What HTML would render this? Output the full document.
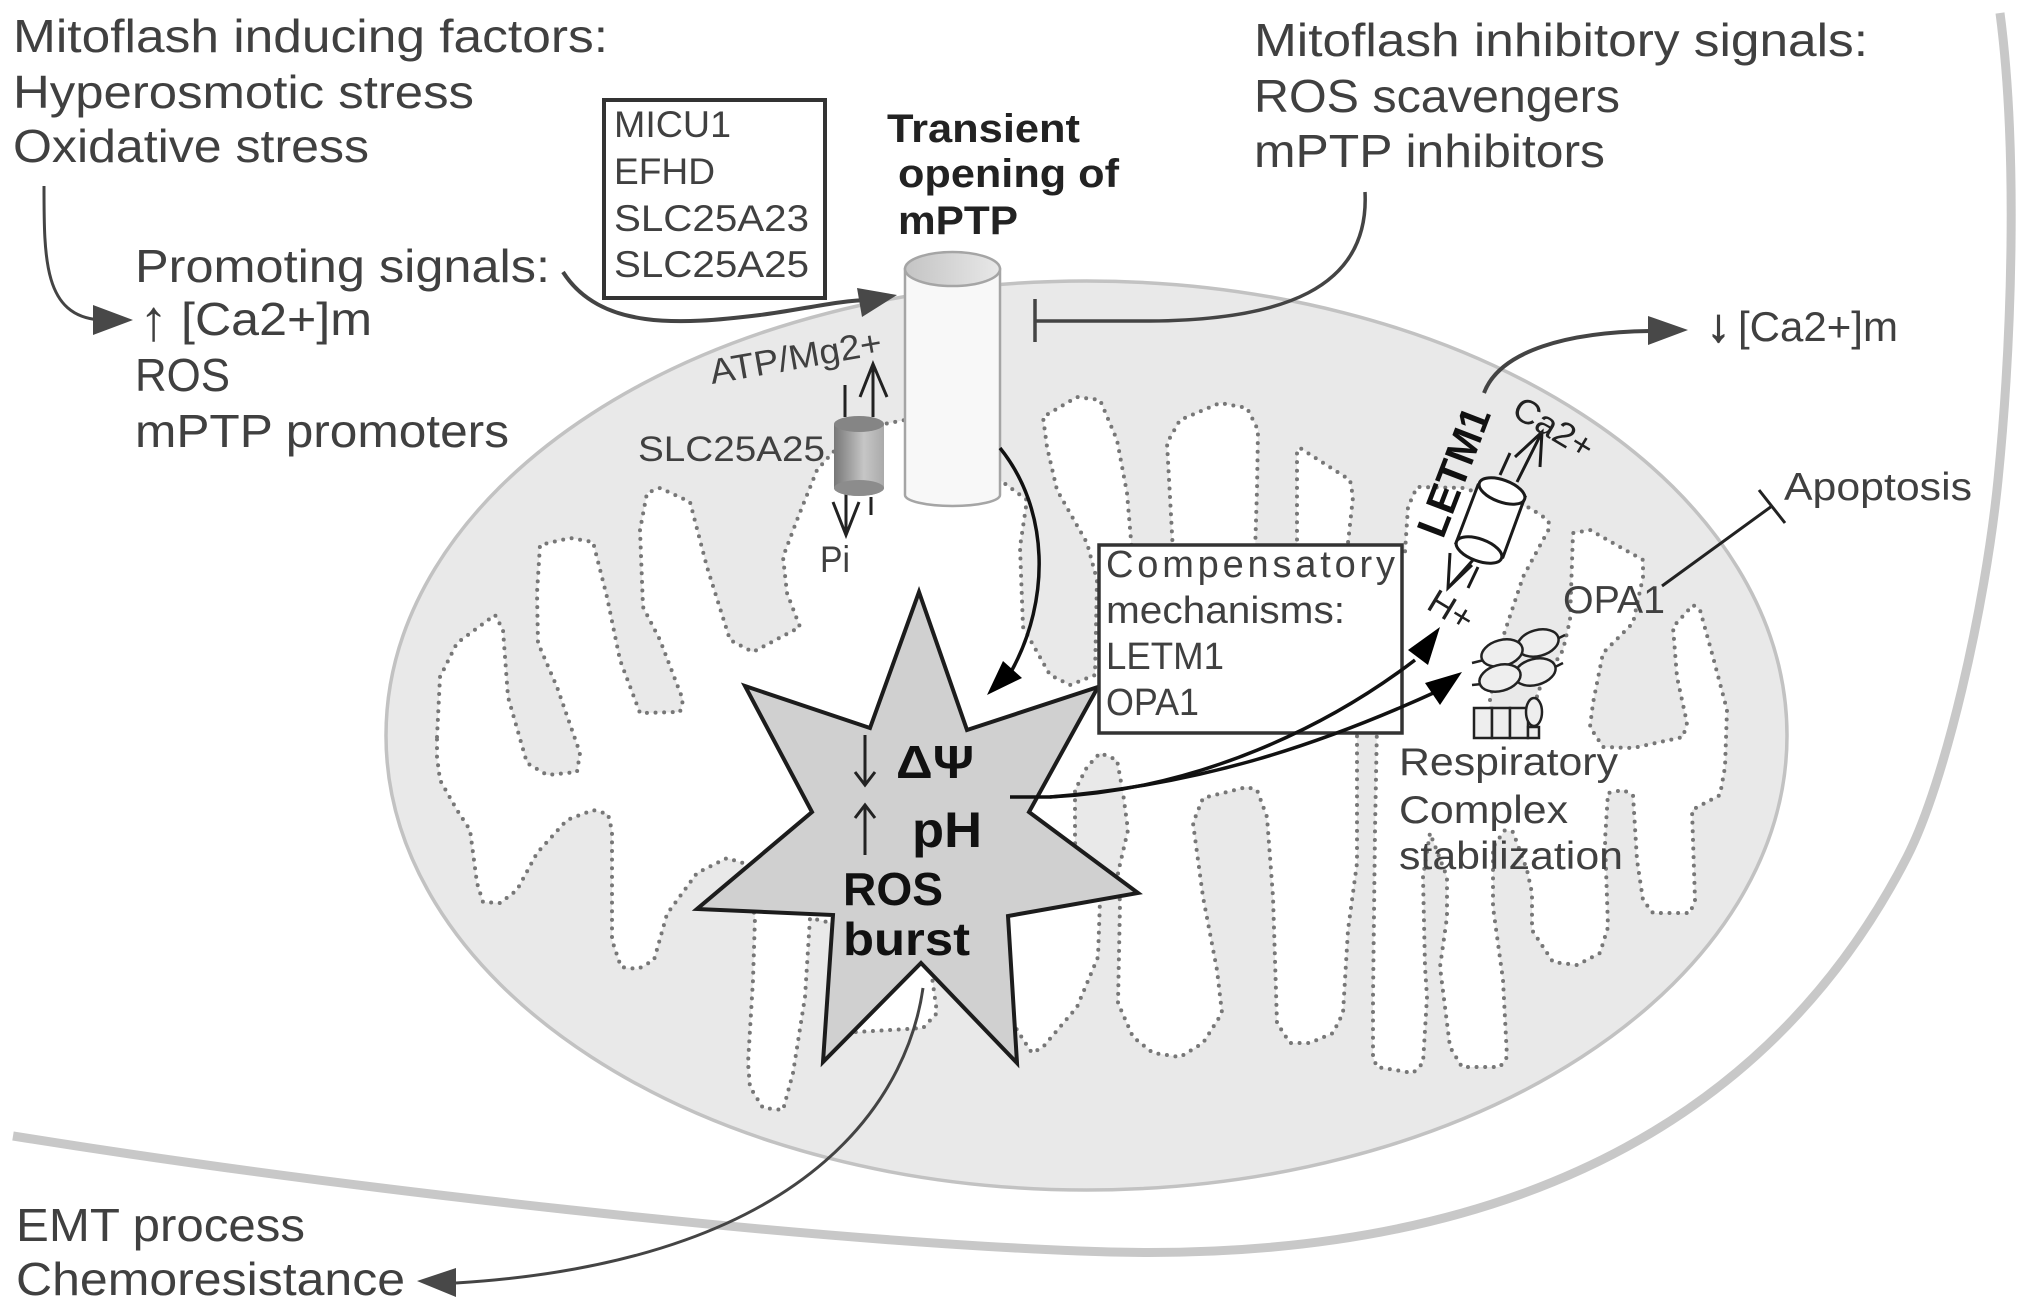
<!DOCTYPE html>
<html><head><meta charset="utf-8"><title>Mitoflash diagram</title>
<style>
html,body{margin:0;padding:0;background:#fff}
svg{display:block}
text{font-family:"Liberation Sans",sans-serif;fill:#404040}
.b{font-weight:bold;fill:#111}
</style></head><body>
<svg width="2031" height="1311" viewBox="0 0 2031 1311" xmlns="http://www.w3.org/2000/svg">
<defs>
<linearGradient id="g1" x1="0" x2="1" y1="0" y2="0"><stop offset="0" stop-color="#777"/><stop offset=".6" stop-color="#c6c6c6"/><stop offset="1" stop-color="#aaa"/></linearGradient>
<linearGradient id="g2" x1="0" x2="1" y1="0" y2="0"><stop offset="0" stop-color="#c4c4c4"/><stop offset="1" stop-color="#e8e8e8"/></linearGradient>
</defs>
<rect width="2031" height="1311" fill="#fff"/>

<!-- mitochondrion -->
<ellipse cx="1086.5" cy="735.5" rx="700.5" ry="454.5" fill="#e9e9e9" stroke="#c2c2c2" stroke-width="3.5"/>
<polygon fill="#fff" stroke="#777" stroke-width="4" stroke-linecap="round" stroke-linejoin="round" stroke-dasharray="0 8.6" points="437,737 440,677 457,643 495,615 503,630 508,697 527,763 547,775 577,772 580,753 557,687 538,643 537,593 540,545 570,538 593,542 607,597 620,660 640,713 680,712 683,700 660,640 643,607 640,530 647,493 660,488 690,502 707,567 730,640 753,652 800,627 787,593 783,557 797,520 817,470 833,452 884,424 905,420 1000,480 1027,500 1020,547 1023,627 1050,675 1070,685 1095,675 1097,580 1087,543 1057,490 1047,447 1043,417 1077,397 1100,400 1117,440 1127,493 1132,552 1173,552 1170,497 1167,443 1180,420 1220,403 1247,408 1258,430 1257,490 1255,552 1297,552 1297,450 1300,448 1350,480 1353,497 1347,552 1405,552 1408,507 1417,487 1463,488 1530,508 1548,520 1550,527 1523,577 1503,637 1490,700 1490,735 1537,735 1537,693 1563,650 1570,620 1573,533 1590,530 1643,560 1643,577 1633,623 1603,653 1593,703 1590,727 1603,747 1633,748 1683,737 1687,723 1677,677 1673,627 1693,605 1700,610 1713,657 1727,710 1725,767 1720,795 1692,810 1695,900 1690,913 1653,913 1643,900 1637,860 1633,795 1623,790 1608,793 1605,840 1608,927 1600,953 1577,965 1553,962 1532,930 1532,893 1527,870 1513,832 1505,830 1493,847 1493,907 1503,980 1507,1057 1500,1067 1462,1067 1450,1047 1440,967 1447,917 1447,877 1430,833 1423,877 1425,967 1427,997 1423,1063 1413,1073 1377,1067 1373,1057 1373,997 1375,830 1377,725 1357,725 1357,863 1348,930 1343,1013 1333,1033 1310,1043 1290,1043 1277,1023 1273,897 1267,817 1257,790 1247,787 1203,798 1193,823 1203,897 1217,970 1222,1013 1203,1043 1180,1057 1153,1053 1133,1037 1118,1003 1120,903 1118,873 1128,830 1123,793 1117,760 1100,753 1087,767 1075,790 1075,843 1100,900 1098,957 1077,1007 1043,1047 1032,1053 1017,1030 980,950 932,977 937,1013 923,1028 857,1032 840,1032 840,925 810,918 805,997 793,1073 783,1110 763,1108 750,1087 748,1063 753,980 755,917 743,863 727,858 697,873 667,914 654,960 638,969 621,967 612,940 612,831 608,814 593,810 567,820 537,853 517,890 500,903 483,902 477,883 470,830 457,810 440,780 437,757"/>

<!-- cell membrane -->
<path d="M13 1136C350 1190 800 1240 1080 1251C1340 1262 1720 1220 1907 857C1945 783 1985 610 1998 480C2012 340 2018 150 2000 13" fill="none" stroke="#c8c8c8" stroke-width="9"/>

<!-- star -->
<polygon points="919,592 967,730 1098,687 1029,812 1138,893 1008,916 1017,1063 921,963 823,1062 833,915 697,909 812,812 745,686 870,728" fill="#d0d0d0" stroke="#1c1c1c" stroke-width="4" stroke-linejoin="miter"/>
<path d="M865 735V785M855 772L865 785L875 772" fill="none" stroke="#222" stroke-width="3"/>
<path d="M865 855V805M855 818L865 805L875 818" fill="none" stroke="#222" stroke-width="3"/>
<text class="b" x="896" y="778" font-size="46" textLength="78" lengthAdjust="spacingAndGlyphs">ΔΨ</text>
<text class="b" x="912" y="847" font-size="50" textLength="70" lengthAdjust="spacingAndGlyphs">pH</text>
<text class="b" x="843" y="905" font-size="46" textLength="100" lengthAdjust="spacingAndGlyphs">ROS</text>
<text class="b" x="843" y="955" font-size="46" textLength="127" lengthAdjust="spacingAndGlyphs">burst</text>

<!-- compensatory box -->
<rect x="1099" y="545" width="303" height="188" fill="#fff" stroke="#333" stroke-width="3.5"/>
<text x="1106" y="577" font-size="38" textLength="289" lengthAdjust="spacing">Compensatory</text>
<text x="1106" y="623" font-size="38" textLength="239" lengthAdjust="spacingAndGlyphs">mechanisms:</text>
<text x="1106" y="669" font-size="38" textLength="118" lengthAdjust="spacingAndGlyphs">LETM1</text>
<text x="1106" y="715" font-size="38" textLength="93" lengthAdjust="spacingAndGlyphs">OPA1</text>

<!-- MICU box -->
<rect x="604" y="100" width="221" height="198" fill="#fff" stroke="#333" stroke-width="4"/>
<text x="614" y="137" font-size="37" textLength="117" lengthAdjust="spacingAndGlyphs">MICU1</text>
<text x="614" y="184" font-size="37" textLength="101" lengthAdjust="spacingAndGlyphs">EFHD</text>
<text x="614" y="231" font-size="37" textLength="195" lengthAdjust="spacingAndGlyphs">SLC25A23</text>
<text x="614" y="277" font-size="37" textLength="195" lengthAdjust="spacingAndGlyphs">SLC25A25</text>

<!-- large cylinder -->
<path d="M905 269V495A47.5 11 0 0 0 1000 495V269Z" fill="#f8f8f8" stroke="#a5a5a5" stroke-width="2.5"/>
<ellipse cx="952.5" cy="269" rx="47.5" ry="17" fill="url(#g2)" stroke="#a5a5a5" stroke-width="2.5"/>

<!-- small cylinder -->
<path d="M845 385V417M873 417V364M860 397L873 364L887 397" fill="none" stroke="#222" stroke-width="3"/>
<path d="M846 490V535M833 502L846 535L859 502M871 497V515" fill="none" stroke="#222" stroke-width="3"/>
<path d="M834 424V488A25 8 0 0 0 884 488V424Z" fill="url(#g1)"/>
<ellipse cx="859" cy="424" rx="25" ry="8" fill="#858585"/>
<ellipse cx="859" cy="488" rx="25" ry="8" fill="#8c8c8c"/>
<text x="638" y="461" font-size="35" textLength="187" lengthAdjust="spacingAndGlyphs">SLC25A25</text>
<text x="820" y="572" font-size="37" textLength="30" lengthAdjust="spacingAndGlyphs">Pi</text>
<text transform="rotate(-10 712 384)" x="712" y="384" font-size="35" textLength="174" lengthAdjust="spacingAndGlyphs">ATP/Mg2+</text>

<!-- grey arrows -->
<g fill="none" stroke="#444" stroke-width="3">
<path d="M44 186C44 260 44 316 100 320"/>
<path d="M563 272C600 330 680 325 760 315C800 310 840 300 870 300" stroke-width="4"/>
<path d="M1365 192C1370 290 1280 320 1150 321L1035 321M1035 299V342" stroke-width="3.5"/>
<path d="M1484 393C1500 350 1570 332 1650 331" stroke-width="4"/>
<path d="M923 988C910 1080 830 1260 456 1283"/>
</g>
<g fill="#484848">
<polygon points="133,320 93,305 93,335"/>
<polygon points="897,295 857,288 862,317"/>
<polygon points="1688,330 1648,316 1648,345"/>
<polygon points="417,1281 456,1268 456,1297"/>
</g>

<!-- black arrows -->
<g fill="none" stroke="#111" stroke-width="3.5">
<path d="M1000 448C1050 510 1050 600 1012 670"/>
<path d="M1010 797L1050 797C1200 790 1330 725 1415 660"/>
<path d="M1050 797C1200 785 1320 745 1440 690"/>
</g>
<g fill="#000">
<polygon points="987,695 1003,661 1022,678"/>
<polygon points="1440,627 1408,650 1428,665"/>
<polygon points="1462,672 1425,683 1440,705"/>
</g>

<!-- LETM1 cylinder -->
<g fill="none" stroke="#1a1a1a" stroke-width="3">
<path d="M1500 475L1510 453M1517 482L1542 432M1515 457L1542 432L1540 467"/>
<path d="M1473 560L1448 588M1450 553L1448 588L1472 565M1478 567L1468 588"/>
<path d="M1478 485L1456 543L1503 557L1525 497Z" fill="#fff"/>
<ellipse cx="1502" cy="491" rx="24" ry="11" transform="rotate(20 1502 491)" fill="#fff"/>
<ellipse cx="1479" cy="550" rx="24" ry="11" transform="rotate(20 1479 550)" fill="#fff"/>
</g>
<text class="b" transform="rotate(-69 1443 540)" x="1443" y="540" font-size="42" textLength="135" lengthAdjust="spacingAndGlyphs">LETM1</text>
<text transform="rotate(31 1510 415)" x="1510" y="415" font-size="34" textLength="88" lengthAdjust="spacingAndGlyphs" style="fill:#222">Ca2+</text>
<text transform="rotate(31 1425 608)" x="1425" y="608" font-size="34" textLength="47" lengthAdjust="spacingAndGlyphs" style="fill:#222">H+</text>

<!-- respiratory complex -->
<g fill="#eee" stroke="#222" stroke-width="2.5">
<path d="M1472 663L1484 660M1472 685L1482 684M1555 640L1565 635M1553 668L1563 663" fill="none"/>
<ellipse cx="1538" cy="643" rx="21" ry="13" transform="rotate(-15 1538 643)"/>
<ellipse cx="1535" cy="672" rx="21" ry="13" transform="rotate(-15 1535 672)"/>
<ellipse cx="1502" cy="653" rx="21" ry="13" transform="rotate(-15 1502 653)"/>
<ellipse cx="1500" cy="678" rx="21" ry="13" transform="rotate(-15 1500 678)"/>
<rect x="1474" y="708" width="18" height="30"/>
<rect x="1492" y="708" width="18" height="30"/>
<rect x="1510" y="708" width="18" height="30"/>
<rect x="1528" y="727" width="11" height="11"/>
<ellipse cx="1534" cy="712" rx="8" ry="14"/>
</g>
<path d="M1662 586L1772 506M1759 490L1785 523" fill="none" stroke="#222" stroke-width="3"/>
<text x="1563" y="613" font-size="39" textLength="102" lengthAdjust="spacingAndGlyphs">OPA1</text>
<text x="1784" y="500" font-size="39" textLength="188" lengthAdjust="spacingAndGlyphs">Apoptosis</text>
<text x="1399" y="775" font-size="39" textLength="219" lengthAdjust="spacingAndGlyphs">Respiratory</text>
<text x="1399" y="823" font-size="39" textLength="169" lengthAdjust="spacingAndGlyphs">Complex</text>
<text x="1399" y="869" font-size="39" textLength="224" lengthAdjust="spacingAndGlyphs">stabilization</text>

<text class="b" x="887" y="142" font-size="40" textLength="193" lengthAdjust="spacingAndGlyphs" style="fill:#222">Transient</text>
<text class="b" x="898" y="187" font-size="40" textLength="221" lengthAdjust="spacingAndGlyphs" style="fill:#222">opening of</text>
<text class="b" x="898" y="234" font-size="40" textLength="120" lengthAdjust="spacingAndGlyphs" style="fill:#222">mPTP</text>

<!-- big text -->
<g font-size="46">
<text x="13" y="52" textLength="595" lengthAdjust="spacingAndGlyphs">Mitoflash inducing factors:</text>
<text x="13" y="108" textLength="461" lengthAdjust="spacingAndGlyphs">Hyperosmotic stress</text>
<text x="13" y="162" textLength="356" lengthAdjust="spacingAndGlyphs">Oxidative stress</text>
<text x="135" y="282" textLength="415" lengthAdjust="spacingAndGlyphs">Promoting signals:</text>
<text x="139" y="340" font-size="58">↑</text>
<text x="181" y="335" textLength="191" lengthAdjust="spacingAndGlyphs">[Ca2+]m</text>
<text x="135" y="391" textLength="95" lengthAdjust="spacingAndGlyphs">ROS</text>
<text x="135" y="447" textLength="374" lengthAdjust="spacingAndGlyphs">mPTP promoters</text>
<text x="1254" y="56" textLength="614" lengthAdjust="spacingAndGlyphs">Mitoflash inhibitory signals:</text>
<text x="1254" y="112" textLength="366" lengthAdjust="spacingAndGlyphs">ROS scavengers</text>
<text x="1254" y="167" textLength="351" lengthAdjust="spacingAndGlyphs">mPTP inhibitors</text>
<text x="16" y="1241" textLength="289" lengthAdjust="spacingAndGlyphs">EMT process</text>
<text x="16" y="1295" textLength="389" lengthAdjust="spacingAndGlyphs">Chemoresistance</text>
</g>
<text x="1707" y="341" font-size="46" style="stroke:#404040;stroke-width:1.2">↓</text>
<text x="1738" y="341" font-size="42" textLength="160" lengthAdjust="spacingAndGlyphs">[Ca2+]m</text>
</svg>
</body></html>
